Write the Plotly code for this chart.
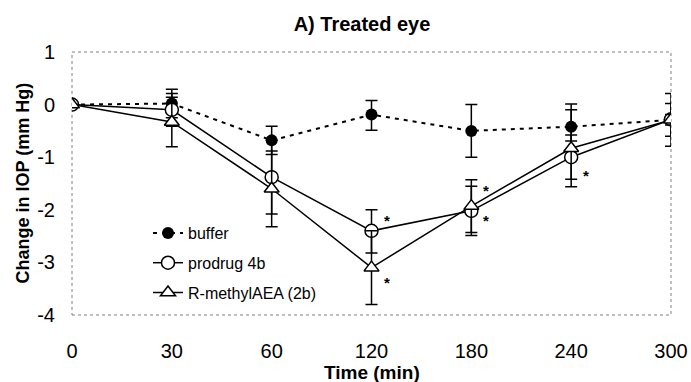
import plotly.graph_objects as go

# ---- data ----
times = ["0", "30", "60", "120", "180", "240", "300"]

buffer_y = [0, 0.02, -0.68, -0.19, -0.50, -0.42, -0.29]
buffer_ep = [None, 0.27, 0.27, 0.27, 0.50, 0.43, 0.50]
buffer_em = [None, 0.27, 0.27, 0.30, 0.50, 0.27, 0.50]

prodrug_y = [0, -0.10, -1.38, -2.40, -2.02, -1.00, -0.28]
prodrug_ep = [None, 0.31, 0.70, 0.40, 0.47, 0.42, 0.30]
prodrug_em = [None, 0.31, 0.70, 0.42, 0.47, 0.42, 0.32]

methyl_y = [0, -0.33, -1.60, -3.10, -1.93, -0.83, -0.29]
methyl_ep = [None, 0.47, 0.72, 0.70, 0.50, 0.73, 0.10]
methyl_em = [None, 0.47, 0.72, 0.70, 0.50, 0.73, 0.10]

star_x = ["120", "120", "180", "180", "240"]
star_y = [-2.12, -3.30, -1.55, -2.12, -1.27]

names = ["buffer", "prodrug 4b", "R-methylAEA (2b)"]
yticks = [1, 0, -1, -2, -3, -4]
yticklabels = ["1", "0", "-1", "-2", "-3", "-4"]

FONT = "Liberation Sans, Arial, sans-serif"
L, R, T, B = 72, 20, 52, 67
PW, PH = 691 - L - R, 382 - T - B

fig = go.Figure()

def err(p, m):
    return dict(type="data", symmetric=False, array=p, arrayminus=m,
                color="black", thickness=1.5, width=6)

fig.add_trace(go.Scatter(
    x=times, y=buffer_y, name=names[0], legendgroup="a",
    mode="lines+markers",
    line=dict(color="black", width=2, dash="4px,5px"),
    marker=dict(symbol="circle", size=12, color="black"),
    error_y=err(buffer_ep, buffer_em)))

fig.add_trace(go.Scatter(
    x=times, y=prodrug_y, name=names[1], legendgroup="b",
    mode="lines+markers",
    line=dict(color="black", width=1.5),
    marker=dict(symbol="circle", size=13, color="white",
                line=dict(color="black", width=1.5)),
    error_y=err(prodrug_ep, prodrug_em)))

fig.add_trace(go.Scatter(
    x=times, y=methyl_y, name=names[2], legendgroup="c",
    mode="lines+markers",
    line=dict(color="black", width=1.5),
    marker=dict(symbol="triangle-up", size=13, color="white",
                line=dict(color="black", width=1.5)),
    error_y=err(methyl_ep, methyl_em)))

for sx, sy in zip(star_x, star_y):
    fig.add_annotation(x=times.index(sx), y=sy, xref="x", yref="y",
                       text="<b>*</b>", showarrow=False,
                       xshift=15, yshift=-4,
                       font=dict(family=FONT, size=15, color="#000000"))

# axis titles
fig.add_annotation(text="<b>Time (min)</b>", xref="paper", yref="paper",
                   x=0.5, y=(0 - (372 - (T + PH))) / PH, xanchor="center", yanchor="middle",
                   showarrow=False, font=dict(family=FONT, size=19, color="black"))
fig.add_annotation(text="<b>Change in IOP (mm Hg)</b>", xref="paper", yref="paper",
                   x=(22 - L) / PW, y=0.5, xanchor="center", yanchor="middle",
                   textangle=-90, showarrow=False,
                   font=dict(family=FONT, size=18, color="black"))

fig.add_shape(type="rect", xref="paper", yref="paper", x0=0, x1=1, y0=0, y1=1,
              line=dict(color="#808080", width=1, dash="dot"), layer="below")

fig.update_layout(
    width=691, height=382,
    margin=dict(l=L, r=R, t=T, b=B, autoexpand=False),
    paper_bgcolor="white", plot_bgcolor="white",
    font=dict(family=FONT, color="black"),
    title=dict(text="<b>A) Treated eye</b>", x=362/691, xanchor="center",
               y=1 - 24/382, yanchor="middle",
               font=dict(family=FONT, size=20, color="black")),
    showlegend=True,
    legend=dict(x=(148 - L) / PW, xanchor="left", y=(315 - 216) / PH, yanchor="top",
                bgcolor="rgba(0,0,0,0)", borderwidth=0,
                font=dict(family=FONT, size=16, color="black"),
                traceorder="grouped", tracegroupgap=6, itemwidth=30),
    xaxis=dict(type="category", categoryorder="array", categoryarray=times,
               range=[0, 6], showgrid=False, zeroline=False, showline=False,
               ticks="outside", ticklen=18, tickcolor="rgba(0,0,0,0)",
               tickfont=dict(family=FONT, size=20, color="black"),
               automargin=False),
    yaxis=dict(range=[-4, 1], tickvals=yticks, ticktext=yticklabels,
               showgrid=False, zeroline=False,
               showline=False, ticks="outside", ticklen=12,
               tickcolor="rgba(0,0,0,0)",
               tickfont=dict(family=FONT, size=20, color="black"),
               automargin=False),
)

fig.write_html("out.html")
